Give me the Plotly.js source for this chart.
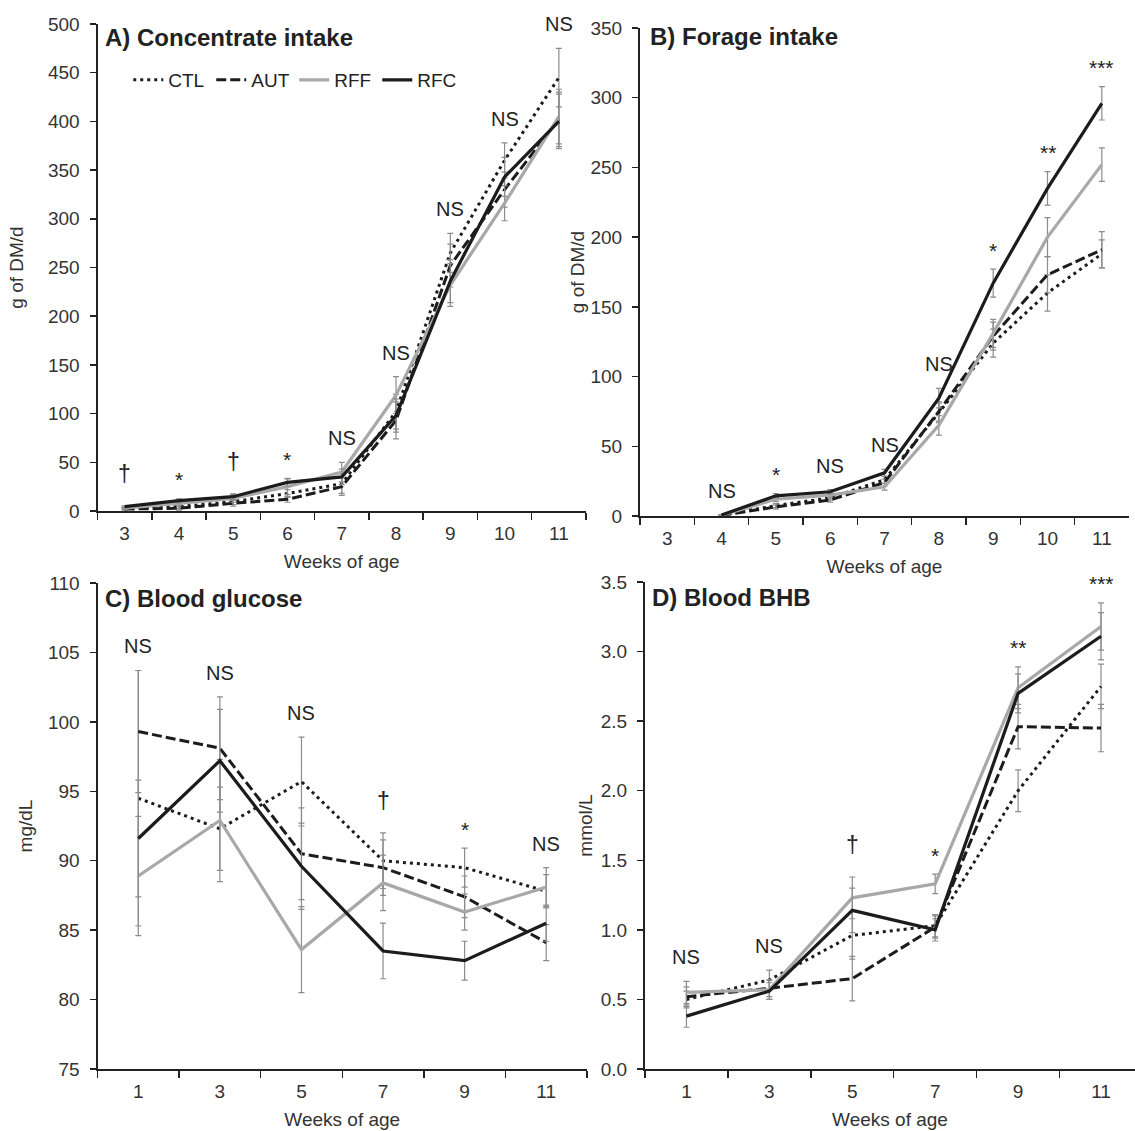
<!DOCTYPE html>
<html>
<head>
<meta charset="utf-8">
<script src="https://cdn.plot.ly/plotly-3.0.1.min.js"></script>
<style>html,body{margin:0;padding:0;background:#fff;}#chart{width:1135px;height:1131px;}</style>
</head>
<body>
<div id="chart"></div>
<script>
// ---------- data ----------
const weeksAB = ['3','4','5','6','7','8','9','10','11'];
const weeksCD = ['1','3','5','7','9','11'];
const groups = ['CTL','AUT','RFF','RFC'];

// A) Concentrate intake, g of DM/d
const concCTL = [3, 4.5, 9.6, 18, 28, 102, 265, 360, 445];
const concAUT = [2, 2.8, 7.9, 12, 25, 93, 252, 330, 402];
const concRFF = [3, 7.9, 13, 25, 40, 119, 232, 316, 405];
const concRFC = [4.4, 10.6, 14.7, 29.4, 35, 98, 236, 343, 400];
const concErrCTL = [1, 2, 3, 4, 10, 18, 20, 18, 30];
const concErrAUT = [1, 2, 3, 3, 9, 19, 22, 18, 28];
const concErrRFF = [1, 2, 4, 8, 10, 19, 22, 18, 28];
const concErrRFC = [1, 2, 3, 4, 8, 17, 22, 20, 28];
const sigA = ['†','*','†','*','NS','NS','NS','NS','NS'];

// B) Forage intake, g of DM/d
const forCTL = [null, 0.5, 7.5, 13, 26, 74, 124, 160, 188];
const forAUT = [null, 0.5, 6.5, 11.5, 24, 75, 129, 173, 191];
const forRFF = [null, 0.5, 12, 15, 21, 65, 131, 200, 252];
const forRFC = [null, 0.7, 14.5, 17.4, 31, 84.5, 167, 235, 296];
const forErrCTL = [null, 0.3, 1.5, 1.5, 2.5, 7, 10, 13, 10];
const forErrAUT = [null, 0.3, 1.5, 1.5, 2.5, 7, 10, 13, 13];
const forErrRFF = [null, 0.3, 1.5, 1.5, 2.5, 7, 10, 14, 12];
const forErrRFC = [null, 0.3, 1.5, 1.5, 2.5, 7, 10, 12, 12];
const sigB = ['', 'NS','*','NS','NS','NS','*','**','***'];

// C) Blood glucose, mg/dL
const gluCTL = [94.5, 92.3, 95.7, 90.0, 89.5, 87.8];
const gluAUT = [99.3, 98.1, 90.5, 89.5, 87.4, 84.1];
const gluRFF = [88.9, 92.9, 83.6, 88.4, 86.3, 88.1];
const gluRFC = [91.6, 97.2, 89.6, 83.5, 82.8, 85.5];
const gluErrCTL = [9.2, 3.0, 3.2, 2.0, 1.4, 1.2];
const gluErrAUT = [4.4, 3.7, 3.3, 2.0, 1.5, 1.3];
const gluErrRFF = [4.3, 4.4, 3.1, 2.0, 1.3, 1.4];
const gluErrRFC = [4.2, 3.7, 3.1, 2.0, 1.4, 1.3];
const sigC = ['NS','NS','NS','†','*','NS'];

// D) Blood BHB, mmol/L
const bhbCTL = [0.50, 0.64, 0.96, 1.03, 2.00, 2.75];
const bhbAUT = [0.52, 0.58, 0.65, 1.02, 2.46, 2.45];
const bhbRFF = [0.55, 0.57, 1.23, 1.33, 2.74, 3.18];
const bhbRFC = [0.38, 0.56, 1.14, 1.00, 2.70, 3.11];
const bhbErrCTL = [0.06, 0.07, 0.17, 0.08, 0.15, 0.16];
const bhbErrAUT = [0.07, 0.06, 0.16, 0.08, 0.16, 0.17];
const bhbErrRFF = [0.08, 0.07, 0.15, 0.07, 0.15, 0.17];
const bhbErrRFC = [0.08, 0.06, 0.16, 0.08, 0.14, 0.17];
const sigD = ['NS','NS','†','*','**','***'];

// ---------- styling ----------
const FONT = 'Liberation Sans, Arial, Helvetica, sans-serif';
const DARK = '#1c1c1c';
const GREY = '#a8a8a8';
const ERRC = '#8c8c8c';
const lineStyle = {
  CTL: {color: DARK, width: 3, dash: '3px,4px'},
  AUT: {color: DARK, width: 3, dash: '10px,4px'},
  RFF: {color: GREY, width: 3.2, dash: 'solid'},
  RFC: {color: DARK, width: 3.2, dash: 'solid'}
};

const panels = [
  {x: weeksAB, vals: [concCTL, concAUT, concRFF, concRFC], errs: [concErrCTL, concErrAUT, concErrRFF, concErrRFC], sig: sigA, xa: 'x', ya: 'y', legend: true},
  {x: weeksAB, vals: [forCTL, forAUT, forRFF, forRFC], errs: [forErrCTL, forErrAUT, forErrRFF, forErrRFC], sig: sigB, xa: 'x2', ya: 'y2'},
  {x: weeksCD, vals: [gluCTL, gluAUT, gluRFF, gluRFC], errs: [gluErrCTL, gluErrAUT, gluErrRFF, gluErrRFC], sig: sigC, xa: 'x3', ya: 'y3'},
  {x: weeksCD, vals: [bhbCTL, bhbAUT, bhbRFF, bhbRFC], errs: [bhbErrCTL, bhbErrAUT, bhbErrRFF, bhbErrRFC], sig: sigD, xa: 'x4', ya: 'y4'}
];

const traces = [];
const annotations = [];
panels.forEach(p => {
  groups.forEach((g, gi) => {
    traces.push({
      type: 'scatter', mode: 'lines', name: g,
      x: p.x, y: p.vals[gi],
      xaxis: p.xa, yaxis: p.ya,
      line: lineStyle[g],
      showlegend: !!p.legend,
      connectgaps: false,
      error_y: {type: 'data', array: p.errs[gi], visible: true, color: ERRC, thickness: 1.2, width: 3}
    });
  });
  // significance labels sit above the highest error bar of each week
  p.sig.forEach((s, i) => {
    if (!s) return;
    let top = -Infinity;
    groups.forEach((g, gi) => {
      const v = p.vals[gi][i];
      if (v !== null && v !== undefined) top = Math.max(top, v + (p.errs[gi][i] || 0));
    });
    const isStar = s.indexOf('*') === 0;
    const isDag = s === '†';
    annotations.push({
      xref: p.xa, yref: p.ya, x: i, y: top,   // x = category index
      text: s, showarrow: false, xanchor: 'center', yanchor: 'middle',
      yshift: isStar ? 19 : (isDag ? 32 : 24),
      font: {family: FONT, size: isStar ? 21 : (isDag ? 23 : 20), color: '#222'}
    });
  });
});

const panelTitles = [
  {text: '<b>A) Concentrate intake</b>', x: 103, y: 38},
  {text: '<b>B) Forage intake</b>', x: 648, y: 36},
  {text: '<b>C) Blood glucose</b>', x: 103, y: 598},
  {text: '<b>D) Blood BHB</b>', x: 650, y: 597}
];
panelTitles.forEach(t => annotations.push({
  xref: 'paper', yref: 'paper', x: t.x / 1135, y: 1 - t.y / 1131,
  xanchor: 'left', yanchor: 'middle', showarrow: false, text: t.text,
  font: {family: FONT, size: 24, color: '#222'}
}));

function xAxis(domain, anchor, range) {
  return {
    domain: domain, anchor: anchor, type: 'category',
    range: range, autorange: false,
    tickson: 'boundaries', ticks: 'outside', ticklen: 7, tickwidth: 1.5, tickcolor: '#222',
    showline: true, linewidth: 2, linecolor: '#222', showgrid: false, zeroline: false,
    tickfont: {family: FONT, size: 19, color: '#333'}, ticklabelstandoff: 4,
    title: {text: 'Weeks of age', font: {family: FONT, size: 19, color: '#333'}, standoff: 12},
    fixedrange: true
  };
}
function yAxis(domain, anchor, range, dtick, title, fmt, standoff) {
  return {
    domain: domain, anchor: anchor, range: range, autorange: false, dtick: dtick, tick0: range[0],
    ticks: 'outside', ticklen: 6, tickwidth: 1.5, tickcolor: '#222',
    showline: true, linewidth: 2, linecolor: '#222', showgrid: false, zeroline: false,
    tickfont: {family: FONT, size: 19, color: '#333'}, ticklabelstandoff: 6,
    tickformat: fmt || '',
    title: {text: title, font: {family: FONT, size: 19, color: '#333'}, standoff: standoff},
    fixedrange: true
  };
}

const layout = {
  width: 1135, height: 1131,
  margin: {l: 0, r: 0, t: 0, b: 0},
  paper_bgcolor: '#fff', plot_bgcolor: '#fff',
  font: {family: FONT, color: '#222'},
  showlegend: true,
  legend: {orientation: 'h', x: 0.113, y: 1 - 80 / 1131, xanchor: 'left', yanchor: 'middle',
           font: {family: FONT, size: 19, color: '#222'}, bgcolor: 'rgba(0,0,0,0)', entrywidth: 38},
  xaxis: xAxis([97.5 / 1135, 586 / 1135], 'y', [-0.5, 8.5]),
  yaxis: yAxis([1 - 511 / 1131, 1 - 24 / 1131], 'x', [0, 500], 50, 'g of DM/d', '', 19),
  xaxis2: xAxis([640 / 1135, 1129 / 1135], 'y2', [-0.5, 8.5]),
  yaxis2: yAxis([1 - 516 / 1131, 1 - 28 / 1131], 'x2', [0, 350], 50, 'g of DM/d', '', 1),
  xaxis3: xAxis([97.5 / 1135, 587 / 1135], 'y3', [-0.5, 5.5]),
  yaxis3: yAxis([1 - 1069 / 1131, 1 - 583 / 1131], 'x3', [75, 110], 5, 'mg/dL', '', 10),
  xaxis4: xAxis([645 / 1135, 1], 'y4', [-0.5, 5.41]),
  yaxis4: yAxis([1 - 1069 / 1131, 1 - 582 / 1131], 'x4', [0, 3.5], 0.5, 'mmol/L', '.1f', 3),
  annotations: annotations
};

Plotly.newPlot('chart', traces, layout, {displayModeBar: false, staticPlot: true});
</script>
</body>
</html>
